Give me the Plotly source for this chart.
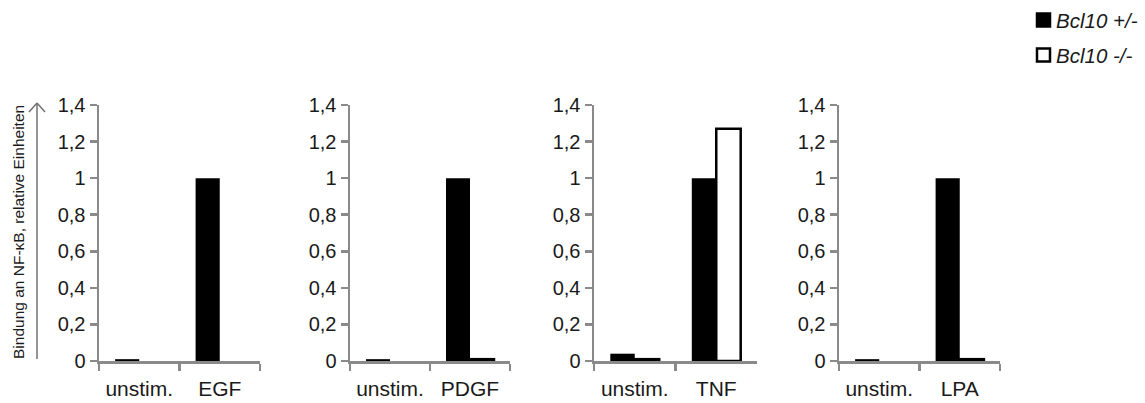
import plotly.graph_objects as go

W, H = 1145, 403

# ---- data ----
stimuli = ["EGF", "PDGF", "TNF", "LPA"]
control_label = "unstim."
bcl10_het = [[0.01, 1.0], [0.01, 1.0], [0.04, 1.0], [0.01, 1.0]]   # Bcl10 +/-
bcl10_ko = [[0.0, 0.0], [0.0, 0.01], [0.01, 1.27], [0.0, 0.01]]    # Bcl10 -/-
series_names = ["Bcl10 +/-", "Bcl10 -/-"]
y_title = "Bindung an NF-κB, relative Einheiten"

# ---- layout geometry (pixels) ----
panel_x = [(99, 260), (350, 510), (594, 757), (839, 1000)]
plot_top, plot_bottom = 105, 361

def px_x(x):
    return x / W

def px_y(y):
    return 1 - y / H

FONT = "Arial, Liberation Sans, sans-serif"
TXT = "#1a1a1a"
AX = "#8a8a8a"

fig = go.Figure()
layout = dict(
    width=W, height=H, autosize=False,
    margin=dict(l=0, r=0, t=0, b=0, pad=0),
    paper_bgcolor="white", plot_bgcolor="white",
    barmode="group", bargap=0.4, bargroupgap=0,
    showlegend=False,
    separators=", ",
    font=dict(family=FONT, color=TXT),
)

for i, stim in enumerate(stimuli):
    cats = [control_label, stim]
    xa = "x" if i == 0 else f"x{i+1}"
    ya = "y" if i == 0 else f"y{i+1}"
    fig.add_trace(go.Bar(
        x=cats, y=bcl10_het[i], name=series_names[0], xaxis=xa, yaxis=ya,
        marker=dict(color="black", line=dict(color="black", width=0)),
    ))
    fig.add_trace(go.Bar(
        x=cats, y=bcl10_ko[i], name=series_names[1], xaxis=xa, yaxis=ya,
        marker=dict(color="white",
                    line=dict(color="black",
                              width=[2.5 if v > 0 else 0 for v in bcl10_ko[i]])),
    ))
    x0, x1 = panel_x[i]
    key = "" if i == 0 else str(i + 1)
    layout["xaxis" + key] = dict(
        domain=[px_x(x0), px_x(x1)], anchor=ya, automargin=False,
        type="category", showline=True, linecolor=AX, linewidth=2.5,
        ticks="outside", tickson="boundaries", ticklen=7, tickcolor=AX, tickwidth=2.5,
        showgrid=False, zeroline=False,
        tickfont=dict(size=21, color=TXT, family=FONT),
        ticklabelstandoff=7,
        fixedrange=True,
    )
    layout["yaxis" + key] = dict(
        domain=[px_y(plot_bottom), px_y(plot_top)], anchor=xa, automargin=False,
        range=[0, 1.4], dtick=0.2, tick0=0,
        showline=True, linecolor=AX, linewidth=2.5,
        ticks="outside", ticklen=7, tickcolor=AX, tickwidth=2.5,
        showgrid=False, zeroline=False,
        tickfont=dict(size=20, color=TXT, family=FONT),
        fixedrange=True,
    )

fig.update_layout(**layout)

# y-axis title with arrow
fig.add_annotation(
    x=px_x(18), y=px_y(232), xref="paper", yref="paper",
    text=y_title, textangle=-90, showarrow=False,
    font=dict(size=15.5, color=TXT, family=FONT),
    xanchor="center", yanchor="middle",
)
arrow_col = "#707070"
fig.add_shape(type="line", xref="paper", yref="paper",
              x0=px_x(37), y0=px_y(359), x1=px_x(37), y1=px_y(103),
              line=dict(color=arrow_col, width=1.5))
fig.add_shape(type="line", xref="paper", yref="paper",
              x0=px_x(29), y0=px_y(112), x1=px_x(37), y1=px_y(103),
              line=dict(color=arrow_col, width=1.5))
fig.add_shape(type="line", xref="paper", yref="paper",
              x0=px_x(45), y0=px_y(112), x1=px_x(37), y1=px_y(103),
              line=dict(color=arrow_col, width=1.5))

# legend (manual)
legend_rows = [(20, "black"), (55, "white")]
for (yc, fill), name in zip(legend_rows, series_names):
    fig.add_shape(type="rect", xref="paper", yref="paper",
                  x0=px_x(1037), x1=px_x(1050), y0=px_y(yc + 6.5), y1=px_y(yc - 6.5),
                  fillcolor=fill, line=dict(color="black", width=2.5))
    fig.add_annotation(
        x=px_x(1054), y=px_y(yc), xref="paper", yref="paper",
        text=f"<i>{name}</i>", showarrow=False,
        font=dict(size=20.5, color=TXT, family=FONT),
        xanchor="left", yanchor="middle",
    )

fig.write_html(
    "out.html",
    config={"displayModeBar": False, "staticPlot": True},
    post_script="document.body.style.margin='0';document.body.style.overflow='hidden';",
)
